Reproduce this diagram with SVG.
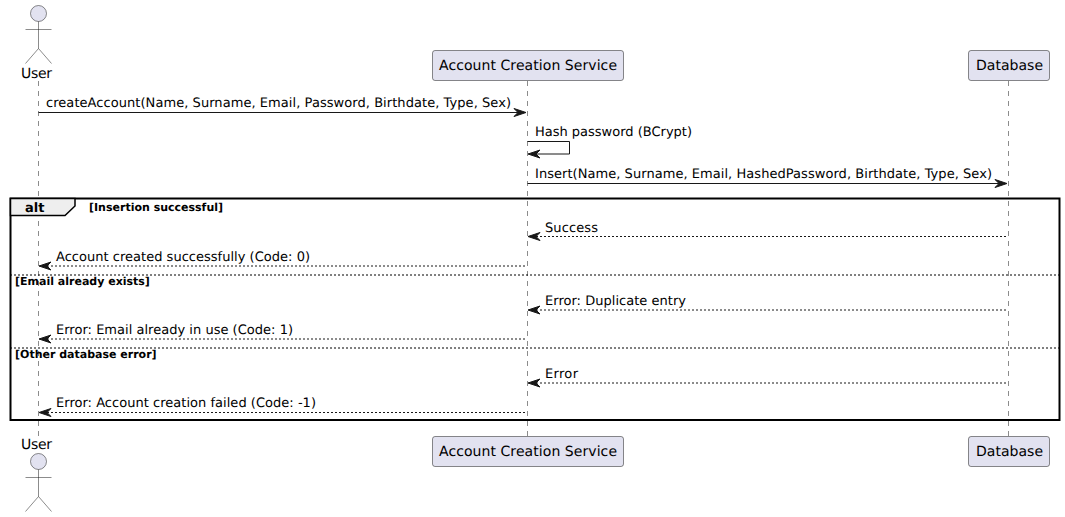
<svg xmlns="http://www.w3.org/2000/svg" width="1065" height="517" viewBox="0 0 1065 517">
<style>
text{font-family:"DejaVu Sans",sans-serif;fill:#000;text-rendering:geometricPrecision}
.p{font-size:14px}
.m{font-size:13px}
.g{font-size:11px;font-weight:bold}
.box{fill:#E2E2F0;stroke:#181818;stroke-width:.5}
.life{stroke:#181818;stroke-width:.5;stroke-dasharray:5,5;fill:none}
.act{fill:none;stroke:#181818;stroke-width:.5}
.msg{stroke:#181818;stroke-width:1;fill:none}
.ret{stroke:#181818;stroke-width:1;fill:none;stroke-dasharray:2,2}
.head{fill:#181818;stroke:#181818}
.sep{stroke:#000;stroke-width:1;stroke-dasharray:2,2;fill:none}
</style>
<defs>
<g id="actor">
<circle cx="0" cy="0" r="8" class="box"/>
<path d="M0 8V35M-13 16H13M0 35L-13 50M0 35L13 50" class="act"/>
</g>
<polygon id="ah-r" class="head" points="-12,-4 0,0 -12,4 -8,0"/>
<polygon id="ah-l" class="head" points="12,-4 0,0 12,4 8,0"/>
</defs>
<g id="lifelines">
<line class="life" x1="38.5" y1="81" x2="38.5" y2="436"/>
<line class="life" x1="527.5" y1="81" x2="527.5" y2="436"/>
<line class="life" x1="1008.5" y1="81" x2="1008.5" y2="436"/>
</g>
<g id="node-user-top"><use href="#actor" x="38.5" y="13.5"/><text class="p" x="21" y="78" textLength="31">User</text></g>
<g id="node-service-top"><rect class="box" x="432.5" y="50.5" width="191" height="30" rx="2.5"/><text class="p" x="439" y="70" textLength="178">Account Creation Service</text></g>
<g id="node-db-top"><rect class="box" x="968.5" y="50.5" width="81" height="30" rx="2.5"/><text class="p" x="976" y="70" textLength="67">Database</text></g>
<g id="node-user-bottom"><text class="p" x="21" y="449" textLength="31">User</text><use href="#actor" x="38.5" y="461.5"/></g>
<g id="node-service-bottom"><rect class="box" x="432.5" y="436.5" width="191" height="30" rx="2.5"/><text class="p" x="439" y="456" textLength="178">Account Creation Service</text></g>
<g id="node-db-bottom"><rect class="box" x="968.5" y="436.5" width="81" height="30" rx="2.5"/><text class="p" x="976" y="456" textLength="67">Database</text></g>
<g id="alt-frame">
<rect x="10.5" y="198.5" width="1049" height="221.5" fill="none" stroke="#000" stroke-width="2"/>
<path d="M10.5 198.5H75V206L65 215.5H10.5Z" fill="#EEEEEE" stroke="#000" stroke-width="1.5"/>
<text x="25" y="212" style="font-size:13px;font-weight:bold">alt</text>
<text class="g" x="89" y="211">[Insertion successful]</text>
<line class="sep" x1="10" y1="275" x2="1060" y2="275"/>
<text class="g" x="15" y="285">[Email already exists]</text>
<line class="sep" x1="10" y1="348" x2="1060" y2="348"/>
<text class="g" x="15" y="358">[Other database error]</text>
</g>
<g id="connectors">
<line class="msg" x1="38.5" y1="112.5" x2="518" y2="112.5"/><use href="#ah-r" x="526" y="112.5"/>
<path class="msg" d="M527.5 141.5H569.5V154H536"/><use href="#ah-l" x="528" y="154"/>
<line class="msg" x1="527.5" y1="183.5" x2="999" y2="183.5"/><use href="#ah-r" x="1007" y="183.5"/>
<line class="ret" x1="536" y1="236.5" x2="1008" y2="236.5"/><use href="#ah-l" x="528" y="236.5"/>
<line class="ret" x1="47" y1="266" x2="527" y2="266"/><use href="#ah-l" x="39" y="266"/>
<line class="ret" x1="536" y1="310" x2="1008" y2="310"/><use href="#ah-l" x="528" y="310"/>
<line class="ret" x1="47" y1="339" x2="527" y2="339"/><use href="#ah-l" x="39" y="339"/>
<line class="ret" x1="536" y1="383" x2="1008" y2="383"/><use href="#ah-l" x="528" y="383"/>
<line class="ret" x1="47" y1="412.5" x2="527" y2="412.5"/><use href="#ah-l" x="39" y="412.5"/>
</g>
<g id="labels">
<text class="m" x="46" y="107" textLength="465">createAccount(Name, Surname, Email, Password, Birthdate, Type, Sex)</text>
<text class="m" x="535" y="136" textLength="157">Hash password (BCrypt)</text>
<text class="m" x="535" y="178" textLength="457">Insert(Name, Surname, Email, HashedPassword, Birthdate, Type, Sex)</text>
<text class="m" x="545" y="232" textLength="53">Success</text>
<text class="m" x="56" y="261" textLength="254">Account created successfully (Code: 0)</text>
<text class="m" x="545" y="305" textLength="141">Error: Duplicate entry</text>
<text class="m" x="56" y="334" textLength="237">Error: Email already in use (Code: 1)</text>
<text class="m" x="545" y="378" textLength="33">Error</text>
<text class="m" x="56" y="407" textLength="260">Error: Account creation failed (Code: -1)</text>
</g>
</svg>
